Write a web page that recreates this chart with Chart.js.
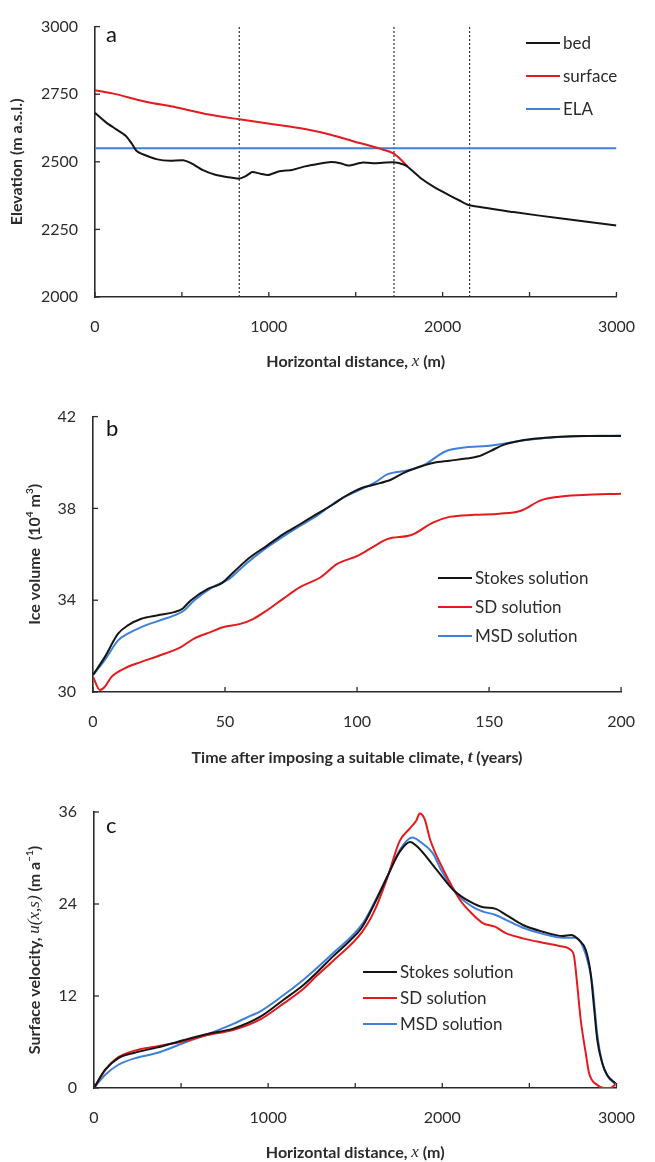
<!DOCTYPE html>
<html>
<head>
<meta charset="utf-8">
<script src="https://cdn.jsdelivr.net/npm/chart.js@4.4.0/dist/chart.umd.min.js"></script>
<style>
  body { margin: 0; background: #fff; }
  .panel { position: absolute; left: 0; width: 655px; }
  #pa { top: 0; }
  #pb { top: 390px; }
  #pc { top: 775px; }
</style>
</head>
<body>
<div class="panel" id="pa"><canvas id="chartA" width="655" height="385"></canvas></div>
<div class="panel" id="pb"><canvas id="chartB" width="655" height="385"></canvas></div>
<div class="panel" id="pc"><canvas id="chartC" width="655" height="387"></canvas></div>
<script>
var FONT = "Lato, 'Open Sans', sans-serif";
var SERIF = "'Liberation Serif', 'DejaVu Serif', serif";
var BLACK = "#151515", RED = "#e31b1f", BLUE = "#3f80d8";
var AXIS = "#2a2a2a", TEXT = "#2b2b2b";

// ---- panel a : glacier geometry ----
var bedX = [0, 65, 120, 175, 212, 240, 286, 360, 433, 507, 553, 618, 692, 765, 830, 867, 904, 950, 996, 1061, 1135, 1208, 1282, 1356, 1411, 1457, 1540, 1614, 1716, 1771, 1799, 1873, 1947, 2039, 2100, 2155, 2408, 2685, 3000];
var bedY = [2681, 2645, 2621, 2597, 2567, 2540, 2525, 2509, 2504, 2506, 2495, 2470, 2452, 2443, 2438, 2447, 2462, 2456, 2451, 2465, 2470, 2483, 2492, 2499, 2495, 2486, 2497, 2495, 2498, 2491, 2482, 2440, 2408, 2376, 2356, 2339, 2314, 2290, 2264];
var surfX = [0, 101, 286, 470, 655, 830, 1024, 1208, 1356, 1485, 1577, 1651, 1716, 1762, 1799];
var surfY = [2765, 2753, 2723, 2701, 2675, 2657, 2639, 2621, 2600, 2576, 2560, 2546, 2531, 2507, 2482];
var elaX = [0, 3000];
var elaY = [2550, 2550];
var dividerX = [830, 1720, 2155];

// ---- panel b : ice volume vs time ----
var tStokes = [0, 4.5, 9.5, 13.2, 18.3, 24.5, 30.8, 33.9, 37.0, 43.7, 48.5, 53.2, 59.5, 65.8, 72.1, 78.4, 84.7, 91.0, 95.7, 102.0, 106.7, 113.0, 117.7, 122.4, 128.7, 135.0, 141.3, 146.0, 150.7, 155.5, 161.8, 169.6, 177.5, 185.4, 200];
var vStokes = [30.74, 31.53, 32.54, 32.9, 33.19, 33.34, 33.48, 33.63, 33.99, 34.50, 34.72, 35.22, 35.87, 36.37, 36.88, 37.31, 37.75, 38.18, 38.54, 38.90, 39.04, 39.26, 39.55, 39.76, 39.98, 40.08, 40.17, 40.27, 40.51, 40.77, 40.95, 41.06, 41.12, 41.15, 41.16];
var tSD = [0, 2.6, 4.5, 7.0, 12.0, 18.3, 24.5, 33.3, 38.3, 44.5, 49.5, 55.8, 60.8, 65.8, 72.1, 78.4, 86.2, 92.5, 100.4, 106.7, 111.4, 120.8, 128.7, 135.0, 144.5, 153.9, 161.8, 169.6, 175.9, 185.4, 200];
var vSD = [30.66, 30.09, 30.23, 30.66, 31.03, 31.31, 31.56, 31.96, 32.33, 32.61, 32.83, 32.97, 33.19, 33.55, 34.07, 34.57, 35.00, 35.58, 35.94, 36.37, 36.66, 36.85, 37.38, 37.63, 37.72, 37.77, 37.89, 38.35, 38.50, 38.58, 38.64];
var tMSD = [0, 4.5, 9.5, 13.2, 18.3, 24.5, 30.8, 34.5, 38.3, 45.3, 51.6, 57.9, 64.2, 70.5, 78.4, 84.7, 92.5, 100.4, 106.7, 111.4, 119.3, 125.6, 133.4, 141.3, 149.2, 157.0, 164.9, 177.5, 200];
var vMSD = [30.74, 31.4, 32.25, 32.54, 32.83, 33.09, 33.34, 33.55, 33.99, 34.57, 34.93, 35.58, 36.16, 36.66, 37.24, 37.67, 38.32, 38.78, 39.12, 39.48, 39.66, 39.91, 40.48, 40.66, 40.72, 40.85, 40.99, 41.12, 41.18];

// ---- panel c : surface velocity ----
var xStokes = [0, 63, 138, 233, 366, 518, 651, 803, 955, 1087, 1201, 1277, 1374, 1469, 1541, 1612, 1684, 1755, 1815, 1856, 1970, 2065, 2159, 2235, 2302, 2368, 2463, 2577, 2691, 2738, 2785, 2824, 2852, 2871, 2890, 2919, 2947, 2994];
var uStokes = [0, 2.35, 3.87, 4.6, 5.3, 6.26, 7.04, 7.78, 9.3, 11.48, 13.4, 15.0, 17.2, 19.2, 21.04, 24.1, 27.56, 30.8, 32.1, 31.5, 28.4, 25.8, 24.3, 23.57, 23.4, 22.56, 21.26, 20.39, 19.83, 19.96, 19.3, 18.0, 14.96, 10.6, 6.26, 3.22, 1.7, 0.6];
var xSD = [0, 63, 138, 233, 366, 518, 651, 803, 955, 1087, 1201, 1277, 1374, 1541, 1612, 1684, 1755, 1815, 1851, 1870, 1898, 1931, 2007, 2102, 2178, 2235, 2302, 2368, 2463, 2577, 2672, 2738, 2757, 2776, 2795, 2824, 2843, 2890, 2928, 2966, 2994];
var uSD = [0, 2.3, 4.0, 4.87, 5.45, 6.1, 6.9, 7.6, 8.96, 11.0, 12.9, 14.6, 16.6, 20.4, 23.2, 27.4, 32.2, 33.9, 34.9, 35.8, 35.1, 32.35, 28.43, 24.52, 22.57, 21.48, 21.04, 20.17, 19.52, 18.95, 18.52, 18.0, 17.13, 13.2, 8.87, 4.52, 1.91, 0.39, 0, 0, 0.5];
var xMSD = [0, 63, 138, 233, 366, 518, 651, 803, 898, 955, 1087, 1201, 1277, 1374, 1541, 1612, 1684, 1755, 1827, 1874, 1946, 1994, 2089, 2184, 2235, 2302, 2368, 2463, 2577, 2691, 2764, 2824, 2862, 2890, 2919, 2947, 2994];
var uMSD = [0, 1.7, 3.0, 3.87, 4.6, 5.9, 7.0, 8.4, 9.4, 10.0, 12.1, 14.1, 15.6, 17.6, 21.4, 24.3, 27.6, 31.0, 32.66, 32.1, 30.6, 28.4, 25.2, 23.5, 23.0, 22.6, 21.9, 20.9, 20.1, 19.6, 19.6, 17.4, 13.4, 7.0, 3.2, 1.6, 0.5];

function pts(xs, ys) {
    return xs.map(function (x, i) { return { x: x, y: ys[i] }; });
}

function line(label, xs, ys, color, smooth) {
    var ds = {
        label: label,
        data: pts(xs, ys),
        borderColor: color,
        borderWidth: 2,
        pointRadius: 0,
        fill: false
    };
    if (smooth) ds.cubicInterpolationMode = "monotone";
    else ds.tension = 0.2;
    return ds;
}

// draws text made of several font runs, centred on (cx, cy)
function drawRich(ctx, segs, cx, cy, vertical) {
    ctx.save();
    ctx.translate(cx, cy);
    if (vertical) ctx.rotate(-Math.PI / 2);
    var total = 0;
    segs.forEach(function (s) { ctx.font = s.font; s.w = ctx.measureText(s.text).width; total += s.w; });
    var x = -total / 2;
    ctx.textBaseline = "middle";
    ctx.textAlign = "left";
    ctx.fillStyle = TEXT;
    segs.forEach(function (s) { ctx.font = s.font; ctx.fillText(s.text, x, s.dy || 0); x += s.w; });
    ctx.restore();
}

var B = "bold 16px " + FONT;
var I = "italic 17px " + SERIF;
var SUP = "bold 10px " + FONT;

function decor(cfg) {
    return {
        id: "decor",
        afterDraw: function (chart) {
            var ctx = chart.ctx, a = chart.chartArea;
            // inward tick marks
            ctx.save();
            ctx.strokeStyle = AXIS;
            ctx.lineWidth = 1.3;
            chart.scales.x.ticks.forEach(function (t) {
                var px = chart.scales.x.getPixelForValue(t.value);
                ctx.beginPath(); ctx.moveTo(px, a.bottom); ctx.lineTo(px, a.bottom - 5); ctx.stroke();
            });
            chart.scales.y.ticks.forEach(function (t) {
                var py = chart.scales.y.getPixelForValue(t.value);
                ctx.beginPath(); ctx.moveTo(a.left, py); ctx.lineTo(a.left + 5, py); ctx.stroke();
            });
            ctx.restore();
            // panel letter
            ctx.save();
            ctx.font = "22px " + FONT;
            ctx.fillStyle = "#111";
            ctx.textBaseline = "middle";
            ctx.fillText(cfg.letter, 106, cfg.letterY);
            ctx.restore();
            // axis titles
            drawRich(ctx, cfg.xTitle, (a.left + a.right) / 2, cfg.xTitleY, false);
            drawRich(ctx, cfg.yTitle, cfg.yTitleX, (a.top + a.bottom) / 2, true);
            // legend
            ctx.save();
            var row = 0;
            chart.data.datasets.forEach(function (ds) {
                if (!ds.label) return;
                var y = cfg.legY + row * cfg.legDy;
                ctx.strokeStyle = ds.borderColor;
                ctx.lineWidth = 2;
                ctx.beginPath(); ctx.moveTo(cfg.legX, y); ctx.lineTo(cfg.legX + 34, y); ctx.stroke();
                ctx.font = "17px " + FONT;
                ctx.fillStyle = TEXT;
                ctx.textBaseline = "middle";
                ctx.fillText(ds.label, cfg.legX + 37, y + 1);
                row++;
            });
            ctx.restore();
        }
    };
}

function axes(o) {
    var tickFont = { family: FONT, size: 16 };
    return {
        x: {
            type: "linear", min: o.xMin, max: o.xMax,
            afterFit: function (s) { s.height = o.h - o.bottom; },
            ticks: {
                stepSize: o.xStep, autoSkip: false, maxRotation: 0, padding: 20,
                color: TEXT, font: tickFont,
                callback: function (v) { return v % o.xLabelEvery === 0 ? String(v) : ""; }
            },
            grid: { drawOnChartArea: false, drawTicks: false },
            border: { color: AXIS, width: 1.6 }
        },
        y: {
            type: "linear", min: o.yMin, max: o.yMax,
            afterFit: function (s) { s.width = o.left; },
            ticks: {
                stepSize: o.yStep, padding: 17, color: TEXT, font: tickFont,
                callback: function (v) { return String(v); }
            },
            grid: { drawOnChartArea: false, drawTicks: false },
            border: { color: AXIS, width: 1.6 }
        }
    };
}

function baseOptions(o) {
    return {
        responsive: false,
        animation: false,
        layout: { padding: { left: 0, top: o.top, right: 655 - o.right, bottom: 0 } },
        plugins: { legend: { display: false }, tooltip: { enabled: false } },
        scales: axes(o)
    };
}

// panel a
var dsA = [
    line("bed", bedX, bedY, BLACK, false),
    line("surface", surfX, surfY, RED, true),
    line("ELA", elaX, elaY, BLUE, false)
];
dividerX.forEach(function (x) {
    dsA.push({
        label: "", data: [{ x: x, y: 2000 }, { x: x, y: 3000 }],
        borderColor: "#333", borderWidth: 1.2, borderDash: [2, 2], pointRadius: 0
    });
});
new Chart(document.getElementById("chartA"), {
    type: "line",
    data: { datasets: dsA },
    options: baseOptions({ h: 385, top: 20, bottom: 297, left: 95, right: 637,
        xMin: 0, xMax: 3000, xStep: 500, xLabelEvery: 1000, yMin: 2000, yMax: 3000, yStep: 250 }),
    plugins: [decor({
        letter: "a", letterY: 35,
        xTitle: [{ text: "Horizontal distance, ", font: B }, { text: "x", font: I }, { text: " (m)", font: B }],
        xTitleY: 362,
        yTitle: [{ text: "Elevation (m a.s.l.)", font: B }],
        yTitleX: 17,
        legX: 526, legY: 43, legDy: 33
    })]
});

// panel b
new Chart(document.getElementById("chartB"), {
    type: "line",
    data: { datasets: [
        line("Stokes solution", tStokes, vStokes, BLACK, true),
        line("SD solution", tSD, vSD, RED, true),
        line("MSD solution", tMSD, vMSD, BLUE, true)
    ] },
    options: baseOptions({ h: 385, top: 25, bottom: 302, left: 93, right: 626,
        xMin: 0, xMax: 200, xStep: 50, xLabelEvery: 50, yMin: 30, yMax: 42, yStep: 4 }),
    plugins: [decor({
        letter: "b", letterY: 39,
        xTitle: [{ text: "Time after imposing a suitable climate, ", font: B }, { text: "t", font: "italic bold 17px " + SERIF }, { text: " (years)", font: B }],
        xTitleY: 368,
        yTitle: [{ text: "Ice volume  (10", font: B }, { text: "4", font: SUP, dy: -5 }, { text: " m", font: B }, { text: "3", font: SUP, dy: -5 }, { text: ")", font: B }],
        yTitleX: 35,
        legX: 438, legY: 188, legDy: 29
    })]
});

// panel c
new Chart(document.getElementById("chartC"), {
    type: "line",
    data: { datasets: [
        line("Stokes solution", xStokes, uStokes, BLACK, true),
        line("SD solution", xSD, uSD, RED, true),
        line("MSD solution", xMSD, uMSD, BLUE, true)
    ] },
    options: baseOptions({ h: 387, top: 37, bottom: 313, left: 94, right: 621,
        xMin: 0, xMax: 3000, xStep: 500, xLabelEvery: 1000, yMin: 0, yMax: 36, yStep: 12 }),
    plugins: [decor({
        letter: "c", letterY: 51,
        xTitle: [{ text: "Horizontal distance, ", font: B }, { text: "x", font: I }, { text: " (m)", font: B }],
        xTitleY: 378,
        yTitle: [{ text: "Surface velocity, ", font: B }, { text: "u(x,s)", font: I }, { text: " (m a", font: B }, { text: "\u22121", font: SUP, dy: -5 }, { text: ")", font: B }],
        yTitleX: 35,
        legX: 363, legY: 197, legDy: 26
    })]
});
</script>
</body>
</html>
